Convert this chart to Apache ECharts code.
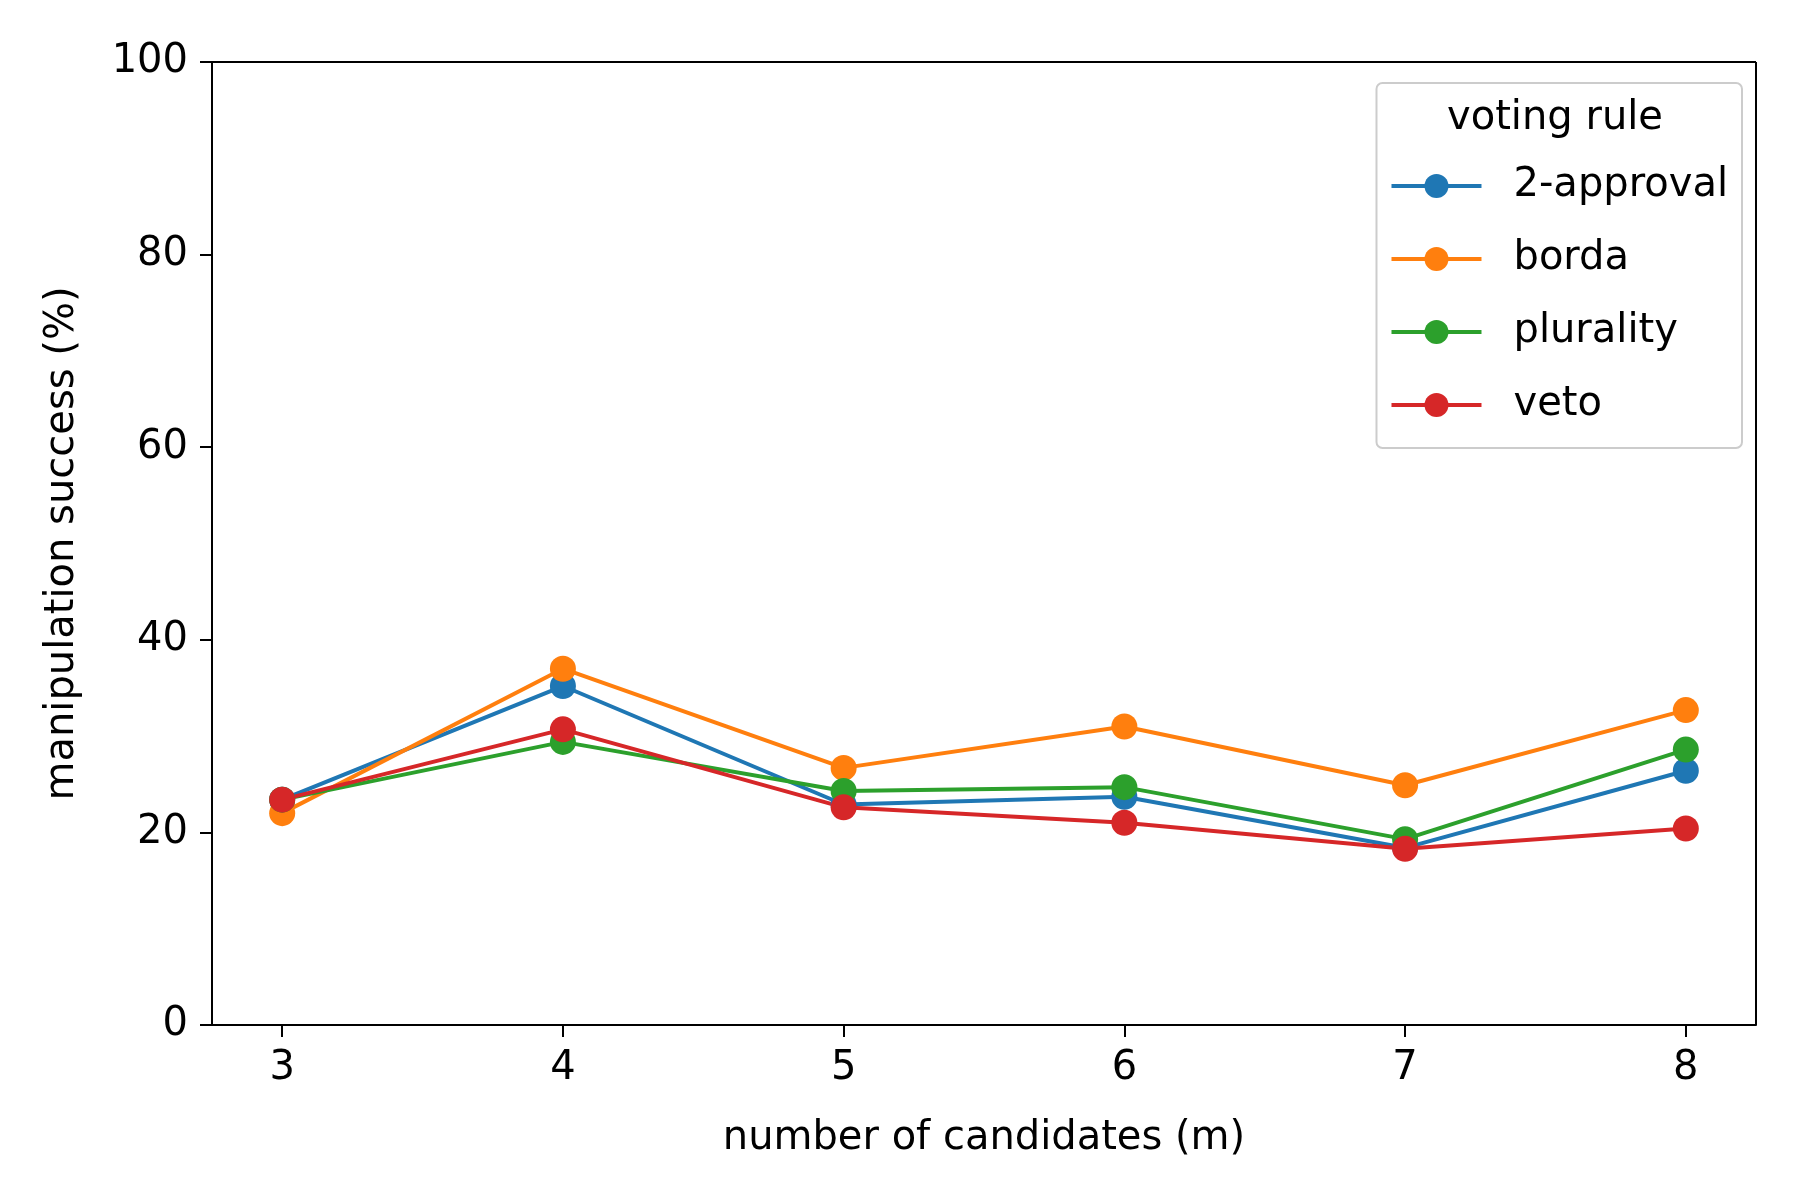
<!DOCTYPE html>
<html>
<head>
<meta charset="utf-8">
<script src="https://cdn.jsdelivr.net/npm/echarts@6/dist/echarts.min.js"></script>
<style>html,body{margin:0;padding:0;background:#fff}#chart{width:1800px;height:1200px}</style>
</head>
<body>
<div id="chart"></div>
<script>
// number of candidates
const candidates = [3, 4, 5, 6, 7, 8];
const ruleNames = ['2-approval', 'borda', 'plurality', 'veto'];
const ruleColors = ['#1f77b4', '#ff7f0e', '#2ca02c', '#d62728'];
const approval2 = [23.4, 35.2, 22.9, 23.7, 18.4, 26.4];
const borda = [22.0, 37.0, 26.7, 31.0, 24.9, 32.7];
const plurality = [23.4, 29.4, 24.3, 24.7, 19.3, 28.6];
const veto = [23.4, 30.7, 22.6, 21.0, 18.3, 20.4];
const yTicks = [0, 20, 40, 60, 80, 100];

const seriesValues = [approval2, borda, plurality, veto];
const font = 'DejaVu Sans';

let chart = echarts.init(document.getElementById('chart'));
let option = {
    animation: false,
    textStyle: {fontFamily: font},
    grid: {left: 212, right: 44, top: 62, bottom: 175},
    xAxis: {
        type: 'value', min: 2.75, max: 8.25,
        name: 'number of candidates (m)', nameLocation: 'middle', nameGap: 94,
        nameTextStyle: {fontSize: 40, color: '#000'},
        splitLine: {show: false},
        axisLine: {onZero: false, lineStyle: {color: '#000', width: 2}},
        axisTick: {customValues: candidates, length: 12, lineStyle: {color: '#000', width: 2}},
        axisLabel: {customValues: candidates, fontSize: 40, color: '#000', margin: 24}
    },
    yAxis: {
        type: 'value', min: 0, max: 100,
        name: 'manipulation success (%)', nameLocation: 'middle', nameGap: 129,
        nameTextStyle: {fontSize: 40, color: '#000'},
        splitLine: {show: false},
        axisLine: {show: true, lineStyle: {color: '#000', width: 2}},
        axisTick: {customValues: yTicks, length: 12, lineStyle: {color: '#000', width: 2}},
        axisLabel: {customValues: yTicks, fontSize: 40, color: '#000', margin: 24}
    },
    legend: {
        orient: 'vertical', right: 58, top: 83,
        padding: [83, 14, 23, 13],
        itemWidth: 90, itemHeight: 30, itemGap: 33,
        backgroundColor: '#fff', borderColor: '#ccc', borderWidth: 2, borderRadius: 6,
        lineStyle: {width: 'inherit'},
        textStyle: {fontSize: 40, color: '#000', lineHeight: 30, padding: [0, 0, 0, 27]},
        data: ruleNames
    },
    graphic: [{
        type: 'text', x: 1555, y: 119, z: 100,
        style: {text: 'voting rule', font: '40px "DejaVu Sans"', fill: '#000', textAlign: 'center', textVerticalAlign: 'middle'}
    }, {
        type: 'rect', shape: {x: 1756, y: 62, width: 0, height: 963}, z: 50,
        style: {stroke: '#000', lineWidth: 2}
    }, {
        type: 'rect', shape: {x: 212, y: 62, width: 1544, height: 0}, z: 50,
        style: {stroke: '#000', lineWidth: 2}
    }],
    series: ruleNames.map((name, i) => ({
        name: name, type: 'line',
        data: candidates.map((c, j) => [c, seriesValues[i][j]]),
        symbol: 'circle', symbolSize: 26,
        color: ruleColors[i],
        lineStyle: {width: 4, color: ruleColors[i]},
        itemStyle: {color: ruleColors[i]}
    }))
};
chart.setOption(option);
</script>
</body>
</html>
